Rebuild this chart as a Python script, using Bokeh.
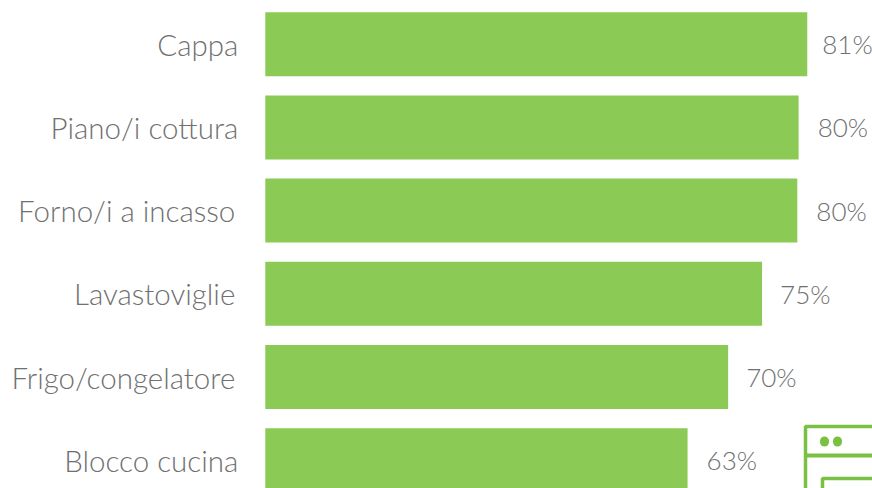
from bokeh.plotting import figure
from bokeh.models import ColumnDataSource, BoxAnnotation, Range1d
from bokeh.core.properties import value
from bokeh.embed import file_html
from bokeh.resources import INLINE

categories = ["Cappa", "Piano/i cottura", "Forno/i a incasso", "Lavastoviglie", "Frigo/congelatore", "Blocco cucina"]
values = [81.5, 80.2, 80.0, 74.7, 69.6, 63.5]
value_labels = ["81%", "80%", "80%", "75%", "70%", "63%"]
label_shift = [-27, -27, -30, -30, -30, -27]
value_shift = [15, 19, 19, 18, 18, 19]

W, H = 872, 488
PX_PER_UNIT = 6.65
BAR_LEFT = 264.8
PITCH = 83.2
FIRST_CENTER = 43.7
FONT = "Lato Light"
GREY = "#707070"
GREEN = "#8CCA56"
ICON = "#7AC143"

p = figure(width=W, height=H, output_backend="svg", toolbar_location=None,
           min_border=0, outline_line_color=None,
           x_range=Range1d(-BAR_LEFT / PX_PER_UNIT, (W - BAR_LEFT) / PX_PER_UNIT),
           y_range=Range1d((H - FIRST_CENTER) / PITCH, -FIRST_CENTER / PITCH))
p.axis.visible = False
p.grid.visible = False

ys = list(range(len(categories)))
src = ColumnDataSource(dict(y=ys, v=values, cat=categories, lab=value_labels,
                            zero=[0] * len(ys), shift=label_shift, vshift=value_shift))
p.hbar(y="y", left="zero", right="v", height=64 / PITCH, source=src,
       fill_color=GREEN, line_color=None)
p.text(x="zero", y="y", text="cat", source=src, x_offset="shift",
       text_align="right", text_baseline="middle", y_offset=0,
       text_font=value(FONT), text_font_size="29.5px", text_color=GREY)
p.text(x="v", y="y", text="lab", source=src, x_offset="vshift",
       text_align="left", text_baseline="middle", y_offset=0,
       text_font=value(FONT), text_font_size="26px", text_color=GREY)


def frame_box(left, right, top, bottom, **kw):
    # screen-unit boxes count y from the bottom of the canvas
    p.add_layout(BoxAnnotation(left=left, right=right, top=H - top, bottom=H - bottom,
                               left_units="screen", right_units="screen",
                               top_units="screen", bottom_units="screen", **kw))


for box in [(805, 890, 426, 520), (822, 890, 478, 520)]:
    frame_box(*box, fill_alpha=0, line_color=ICON, line_alpha=1, line_width=3.5)
frame_box(805, 872, 453, 457, fill_color=ICON, fill_alpha=1, line_color=None)
frame_box(819.5, 828.5, 436, 446, fill_color=ICON, fill_alpha=1, line_color=None, border_radius=5)
frame_box(832.5, 841.5, 436, 446, fill_color=ICON, fill_alpha=1, line_color=None, border_radius=5)

open("out.html", "w").write(file_html(p, INLINE))
